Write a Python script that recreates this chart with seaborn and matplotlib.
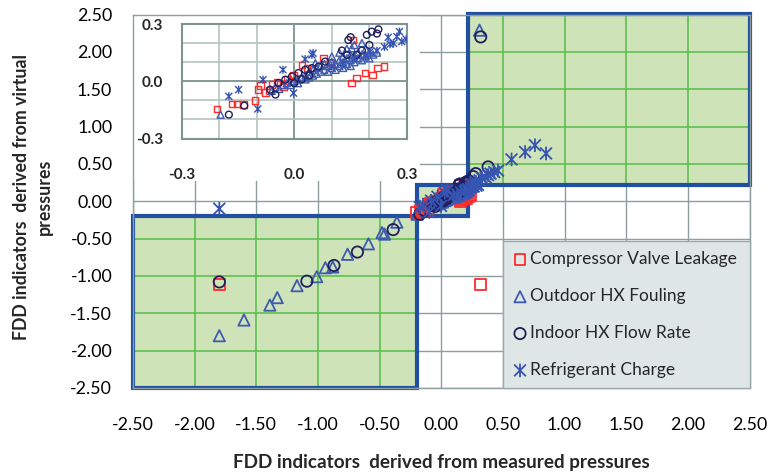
import matplotlib
matplotlib.use("Agg")
import matplotlib.pyplot as plt
import matplotlib.ticker as mticker
from matplotlib.patches import Rectangle
from matplotlib.path import Path
import pandas as pd
import seaborn as sns

# ---- data -------------------------------------------------------------
series_names = ["Compressor Valve Leakage", "Outdoor HX Fouling",
                "Indoor HX Flow Rate", "Refrigerant Charge"]

cvl_x = [-1.80, 0.32, -0.205, -0.165, -0.152, -0.135, -0.104, -0.097, -0.090,
         -0.077, -0.066, -0.059, -0.046, -0.037, -0.028, -0.018, -0.006, -0.002,
         0.020, 0.034, 0.078, 0.096, 0.156, 0.153, 0.166, 0.188, 0.208, 0.221,
         0.239]
cvl_y = [-1.11, -1.11, -0.145, -0.119, -0.119, -0.123, -0.100, -0.044, -0.023,
         -0.058, -0.048, -0.018, -0.006, -0.018, -0.030, 0.011, -0.001, 0.034,
         0.086, 0.069, 0.121, 0.098, 0.217, -0.009, 0.017, 0.043, 0.032, 0.069,
         0.077]

ohx_x = [-1.80, -1.60, -1.39, -1.33, -1.17, -1.01, -0.94, -0.88, -0.76, -0.59,
         -0.48, -0.46, -0.36, 0.31, -0.196,
         -0.06, -0.05, -0.04, -0.03, -0.02, -0.01, 0.00, 0.01, 0.01, 0.02, 0.03,
         0.03, 0.04, 0.04, 0.05, 0.05, 0.056, 0.06, 0.06, 0.07, 0.07, 0.08, 0.08,
         0.09, 0.09, 0.10, 0.10, 0.10, 0.11, 0.11, 0.12, 0.12, 0.12, 0.13, 0.13,
         0.13, 0.14, 0.14, 0.14, 0.15, 0.15, 0.15, 0.153, 0.16, 0.16, 0.16, 0.17,
         0.17, 0.18, 0.18, 0.18, 0.19, 0.19, 0.20, 0.20, 0.21, 0.22]
ohx_y = [-1.80, -1.59, -1.39, -1.29, -1.13, -1.01, -0.89, -0.88, -0.71, -0.57,
         -0.42, -0.44, -0.28, 2.29, -0.175,
         -0.05, -0.03, -0.04, -0.02, -0.01, -0.02, 0.00, 0.01, -0.01, 0.02, 0.01,
         0.03, 0.02, 0.05, 0.03, 0.06, 0.095, 0.04, 0.07, 0.05, 0.08, 0.06, 0.09,
         0.05, 0.08, 0.07, 0.10, 0.13, 0.06, 0.09, 0.08, 0.11, 0.15, 0.10, 0.13,
         0.07, 0.09, 0.12, 0.17, 0.11, 0.14, 0.08, 0.173, 0.10, 0.13, 0.19, 0.12,
         0.15, 0.11, 0.14, 0.20, 0.13, 0.17, 0.12, 0.15, 0.14, 0.15]

ihx_x = [-1.80, -1.09, -0.87, -0.68, -0.39, 0.32, 0.26, 0.28, 0.38,
         -0.174, -0.133, -0.064, -0.050, -0.042, -0.024, -0.006, 0.011, 0.029,
         0.047, 0.065, 0.082, 0.000, 0.020, 0.040, 0.127, 0.140, 0.144, 0.150,
         0.166, 0.180, 0.200, 0.193, 0.206, 0.220, 0.224]
ihx_y = [-1.08, -1.07, -0.86, -0.68, -0.38, 2.20, 0.33, 0.37, 0.46,
         -0.175, -0.128, -0.044, -0.070, -0.009, 0.008, 0.025, 0.043, 0.060,
         0.069, 0.077, 0.103, -0.010, 0.010, 0.030, 0.161, 0.138, 0.216, 0.231,
         0.138, 0.161, 0.190, 0.243, 0.260, 0.250, 0.272]

rc_x = [-1.80, 0.57, 0.68, 0.76, 0.85, 0.25, 0.28, 0.31, 0.33, 0.36, 0.38,
        0.40, 0.43, 0.46,
        -0.174, -0.148, -0.097, -0.083, -0.030, -0.002, 0.029, 0.047, 0.050,
        0.202, 0.255, 0.264, 0.273, 0.286, 0.298, 0.10, 0.13, 0.16, 0.19, 0.22,
        0.24]
rc_y = [-0.10, 0.56, 0.66, 0.75, 0.64, 0.23, 0.26, 0.28, 0.31, 0.32, 0.35,
        0.37, 0.39, 0.41,
        -0.079, -0.044, -0.145, 0.008, 0.060, -0.062, 0.116, 0.138, 0.147,
        0.155, 0.194, 0.199, 0.234, 0.208, 0.220, 0.08, 0.09, 0.12, 0.13, 0.16,
        0.18]

main_ticks = [-2.5, -2.0, -1.5, -1.0, -0.5, 0.0, 0.5, 1.0, 1.5, 2.0, 2.5]
inset_ticks = [-0.3, 0.0, 0.3]
inset_minor = [-0.2, -0.1, 0.1, 0.2]

# regions of agreement (lower-left, centre band, upper-right)
lo_edge, hi_edge = -0.2, 0.22

# ---- styling ----------------------------------------------------------
sns.set_theme(style="white")
plt.rcParams["font.family"] = ["Lato", "DejaVu Sans"]
plt.rcParams["axes.unicode_minus"] = False

RED = "#ff2b2b"
TRI = "#3d5bb0"
CIRC = "#1f1f5c"
STAR = "#3654b2"
BOX = "#2150a0"
GREEN_FILL = "#cfe3b8"
GREEN_LINE = "#5fbe4d"
GRID = "#8e9e9e"

star_path = Path([(-1, -1), (1, 1), (-1, 1), (1, -1), (0, -1.15), (0, 1.15)],
                 [Path.MOVETO, Path.LINETO, Path.MOVETO, Path.LINETO,
                  Path.MOVETO, Path.LINETO])

# (x, y, marker, colour, main size, inset size)
series = [
    (cvl_x, cvl_y, "s", RED, 62, 22),
    (ohx_x, ohx_y, "^", TRI, 66, 26),
    (ihx_x, ihx_y, "o", CIRC, 66, 24),
    (rc_x, rc_y, star_path, STAR, 95, 34),
]

W, H = 771, 475
fig = plt.figure(figsize=(W / 100, H / 100), dpi=100)
fig.patch.set_facecolor("white")


def px_axes(left, top, right, bottom):
    return fig.add_axes([left / W, 1 - bottom / H, (right - left) / W,
                         (bottom - top) / H])


# ---- main axes --------------------------------------------------------
ax = px_axes(133, 14.5, 749.5, 388)
ax.set_xlim(-2.5, 2.5)
ax.set_ylim(-2.5, 2.5)
ax.set_xticks(main_ticks)
ax.set_yticks(main_ticks)
ax.xaxis.set_major_formatter(mticker.FormatStrFormatter("%.2f"))
ax.yaxis.set_major_formatter(mticker.FormatStrFormatter("%.2f"))
ax.tick_params(axis="both", length=0, labelsize=12.8, colors="black")
ax.tick_params(axis="x", pad=21)
ax.tick_params(axis="y", pad=15)
ax.set_axisbelow(True)
ax.grid(True, color=GRID, linewidth=1.0)
for sp in ax.spines.values():
    sp.set_color(GRID)
    sp.set_linewidth(1.0)

boxes = [(-2.5, -2.5, lo_edge + 2.5, lo_edge + 2.5),
         (lo_edge, lo_edge, hi_edge - lo_edge, hi_edge - lo_edge),
         (hi_edge, hi_edge, 2.5 - hi_edge, 2.5 - hi_edge)]
for (bx, by, bw, bh) in boxes:
    fill = Rectangle((bx, by), bw, bh, facecolor=GREEN_FILL, edgecolor="none",
                     zorder=1)
    ax.add_patch(fill)
    for t in main_ticks:
        for ln in (ax.axvline(t, color=GREEN_LINE, lw=1.2, zorder=1.1),
                   ax.axhline(t, color=GREEN_LINE, lw=1.2, zorder=1.1)):
            ln.set_clip_path(fill)
for (bx, by, bw, bh) in boxes:
    ax.add_patch(Rectangle((bx, by), bw, bh, fill=False, edgecolor=BOX,
                           lw=3.0, zorder=2, clip_on=False))

# white panel that holds the zoomed view
ax.add_patch(Rectangle((-2.5, 0.275), 2.33, 2.225, facecolor="white",
                       edgecolor="none", zorder=2.5))

for (xs, ys, mk, col, s_main, _), name in zip(series, series_names):
    df = pd.DataFrame({"x": xs, "y": ys})
    sns.scatterplot(data=df, x="x", y="y", ax=ax, marker=mk, s=s_main,
                    color=col, facecolor="none", edgecolor=col,
                    linewidth=1.3, label=name, zorder=3, legend=False)

ax.set_xlabel("FDD indicators  derived from measured pressures",
              fontsize=13.6, fontweight="bold")
ax.xaxis.label.set_verticalalignment("center")
ax.xaxis.set_label_coords(0.501, -0.199)
ax.set_ylabel("FDD indicators  derived from virtual\npressures",
              fontsize=12.8, fontweight="bold", linespacing=1.4)
ax.yaxis.label.set_verticalalignment("center")
ax.yaxis.set_label_coords(-0.162, 0.511)

leg_x0 = (503 - 133) / (749.5 - 133)
leg = ax.legend(loc="lower left", bbox_to_anchor=(leg_x0, 0.0, 1 - leg_x0, 0.5),
                mode="expand", borderaxespad=0.0, frameon=True, fancybox=False,
                facecolor="#dfe6e6", edgecolor="#9aaaa8", framealpha=1.0,
                fontsize=12.5, labelspacing=1.2, handlelength=0.8,
                handletextpad=0.2, borderpad=0.58, scatterpoints=1)
leg.get_frame().set_linewidth(1.0)
leg.set_zorder(5)

# ---- zoomed inset -----------------------------------------------------
axi = px_axes(181.5, 24, 407, 138.5)
axi.set_zorder(4)
axi.set_facecolor("white")
axi.set_xlim(-0.3, 0.3)
axi.set_ylim(-0.3, 0.3)
axi.set_xticks(inset_ticks)
axi.set_yticks(inset_ticks)
axi.set_xticks(inset_minor, minor=True)
axi.set_yticks(inset_minor, minor=True)
axi.xaxis.set_major_formatter(mticker.FormatStrFormatter("%.1f"))
axi.yaxis.set_major_formatter(mticker.FormatStrFormatter("%.1f"))
axi.tick_params(axis="both", which="both", length=0, labelsize=11)
axi.tick_params(axis="x", pad=21)
axi.tick_params(axis="y", pad=13)
for lab in axi.get_xticklabels() + axi.get_yticklabels():
    lab.set_fontweight("bold")
axi.set_axisbelow(True)
axi.grid(True, which="minor", color="#b3c5c1", linewidth=1.2)
axi.grid(True, which="major", color="#6f8985", linewidth=1.2)
for sp in axi.spines.values():
    sp.set_color("#7e9490")
    sp.set_linewidth(1.5)

for (xs, ys, mk, col, _, s_in) in series:
    df = pd.DataFrame({"x": xs, "y": ys})
    sns.scatterplot(data=df, x="x", y="y", ax=axi, marker=mk, s=s_in,
                    color=col, facecolor="none", edgecolor=col,
                    linewidth=1.0, zorder=3, legend=False)
axi.set_xlabel("")
axi.set_ylabel("")

fig.savefig("out.png", dpi=100, facecolor="white")
